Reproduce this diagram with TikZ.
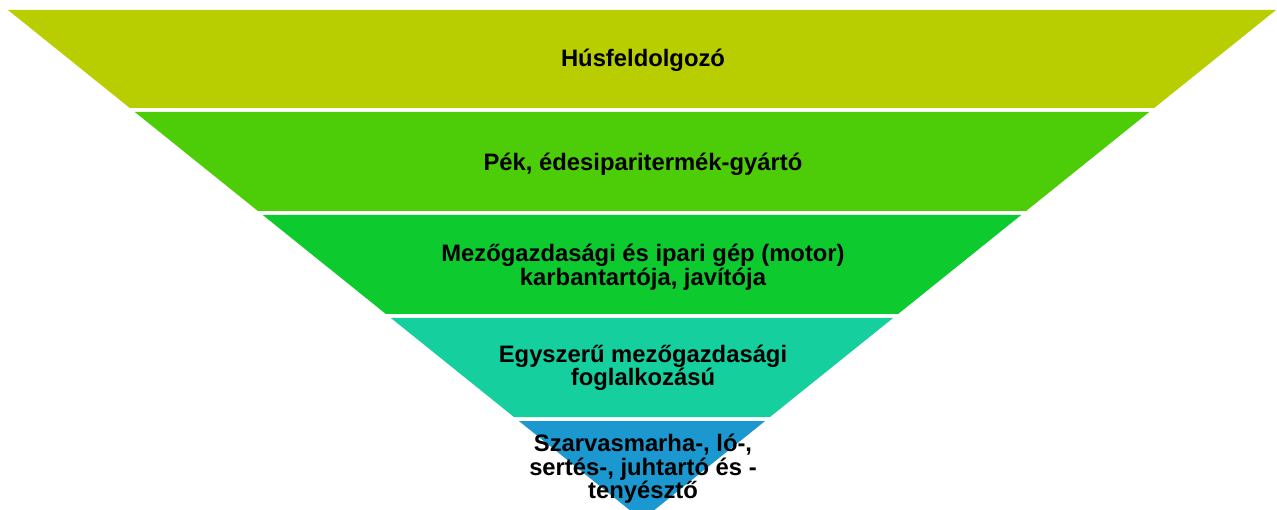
\documentclass[tikz,border=0pt]{standalone}
\usepackage{fontspec}
\setmainfont{Liberation Sans}
\definecolor{bandA}{HTML}{B8CE00}
\definecolor{bandB}{HTML}{4DCD08}
\definecolor{bandC}{HTML}{0DCB2E}
\definecolor{bandD}{HTML}{15CF9E}
\definecolor{bandE}{HTML}{1A98CF}
\tikzset{
  lbl/.style={font=\fontsize{23.8}{23.5}\selectfont\bfseries, text=black, align=center, inner sep=0pt},
}
\begin{document}
\begin{tikzpicture}[x=1pt,y=-1pt]
\useasboundingbox (0,0) rectangle (1277,510);
\clip (0,0) rectangle (1277,510);
\fill[white] (0,0) rectangle (1277,510);
% bands
\fill[bandA] (8,10) -- (1276,10) -- (1154.2,108) -- (129.8,108) -- cycle;
\fill[bandB] (134.8,112) -- (1149.2,112) -- (1026.1,211) -- (257.9,211) -- cycle;
\fill[bandC] (262.8,215) -- (1021.2,215) -- (898.1,314) -- (385.9,314) -- cycle;
\fill[bandD] (390.9,318) -- (893.1,318) -- (770,417) -- (514,417) -- cycle;
\fill[bandE] (518.9,421) -- (765.1,421) -- (642,520) -- cycle;
% labels
\node[lbl] (t1) at (643,60.5) {Húsfeldolgozó};
\node[lbl] (t2) at (643,164.5) {Pék, édesiparitermék-gyártó};
\node[lbl] (t3) at (643,267) {Mezőgazdasági és ipari gép (motor)\\karbantartója, javítója};
\node[lbl] (t4) at (643,368) {Egyszerű mezőgazdasági\\foglalkozású};
\node[lbl] (t5) at (643,469) {Szarvasmarha-, ló-,\\sertés-, juhtartó és -\\tenyésztő};
\end{tikzpicture}
\end{document}
